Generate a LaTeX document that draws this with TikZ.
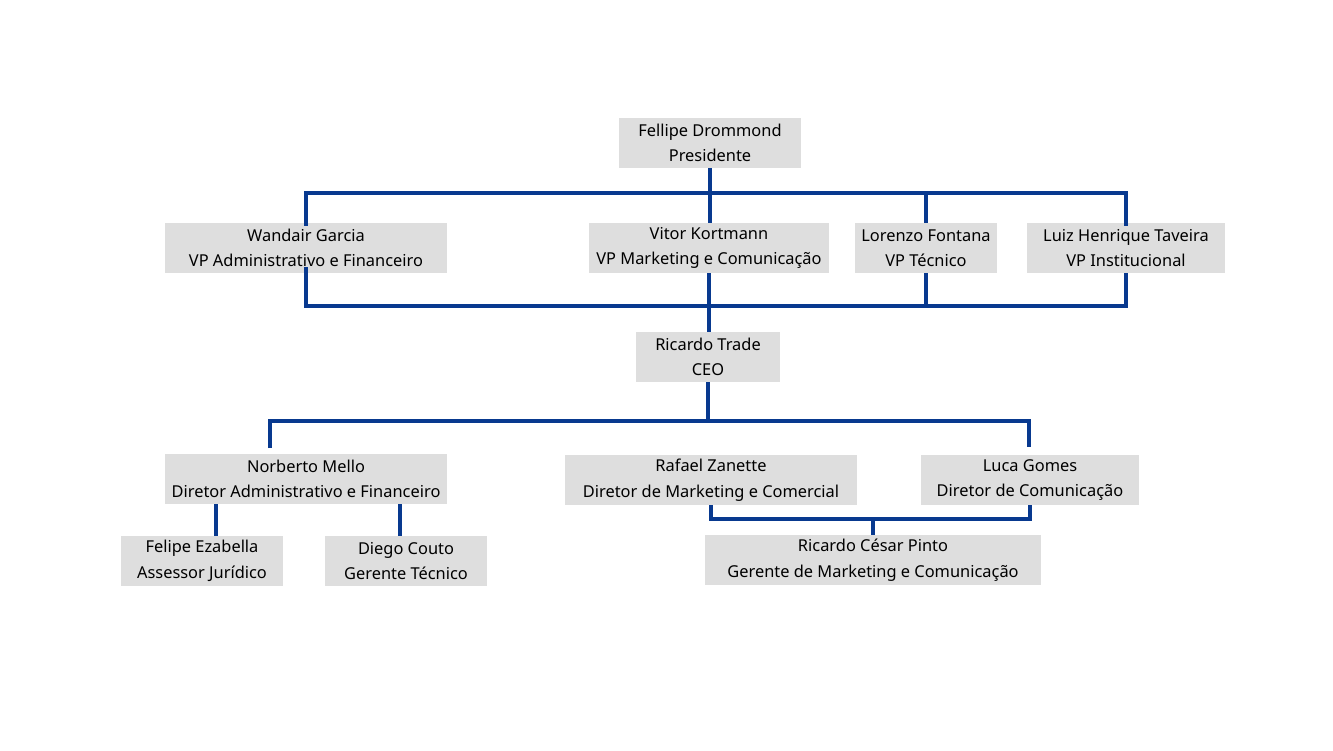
\documentclass[tikz,border=0pt]{standalone}
\usepackage{fontspec}
\setmainfont{Noto Sans}
\definecolor{lineblue}{RGB}{8,57,143}
\definecolor{boxgray}{RGB}{222,222,222}
\begin{document}
\begin{tikzpicture}[x=1pt,y=-1pt,
  box/.style={fill=boxgray, draw=none, inner sep=0pt, align=center,
    font=\fontsize{16.4}{25.5}\selectfont, minimum height=50},
  conn/.style={draw=lineblue, line width=3.1pt}]
\useasboundingbox (0,0) rectangle (1333,750);
% level 0
\node[box, minimum width=182] (pres) at (710,143) {Fellipe Drommond\\Presidente};
% level 1
\node[box, minimum width=282] (wand) at (306,248) {Wandair Garcia\\VP Administrativo e Financeiro};
\node[box, minimum width=240] (vitor) at (709,248) {Vitor Kortmann\\VP Marketing e Comunicação};
\node[box, minimum width=142] (lor) at (926,248) {Lorenzo Fontana\\VP Técnico};
\node[box, minimum width=198] (luiz) at (1126,248) {Luiz Henrique Taveira\\VP Institucional};
% CEO
\node[box, minimum width=144] (ceo) at (708,357) {Ricardo Trade\\CEO};
% directors
\node[box, minimum width=282] (norb) at (306,479) {Norberto Mello\\Diretor Administrativo e Financeiro};
\node[box, minimum width=292] (raf) at (711,480) {Rafael Zanette\\Diretor de Marketing e Comercial};
\node[box, minimum width=218] (luca) at (1030,480) {Luca Gomes\\Diretor de Comunicação};
% level 4
\node[box, minimum width=162] (fel) at (202,561) {Felipe Ezabella\\Assessor Jurídico};
\node[box, minimum width=162] (die) at (406,561) {Diego Couto\\Gerente Técnico};
\node[box, minimum width=336] (rcp) at (873,560) {Ricardo César Pinto\\Gerente de Marketing e Comunicação};
% bus levels
\coordinate (b1) at (0,193);
\coordinate (b2) at (0,306);
\coordinate (b3) at (0,421);
\coordinate (b4) at (0,519);
% top bus
\draw[conn] (pres.south) -- (pres.south |- vitor.north);
\draw[conn] ([yshift=-3]wand.north) -- (wand.north |- b1) -| ([yshift=-3]luiz.north);
\draw[conn] (lor.north) -- (lor.north |- b1);
% lower bus
\draw[conn] ([yshift=6]wand.south) -- (wand.south |- b2) -| (luiz.south);
\draw[conn] (lor.south) -- (lor.south |- b2);
\draw[conn] (vitor.south) -- (vitor.south |- ceo.north);
% CEO bus
\coordinate (nd) at (270,448);
\coordinate (ld) at (1029,447);
\draw[conn] (ceo.south) -- (ceo.south |- b3);
\draw[conn] (nd) -- (nd |- b3) -| (ld);
% Norberto subordinates
\draw[conn] ([xshift=14]fel.north) -- ([xshift=14]fel.north |- norb.south);
\draw[conn] ([xshift=-6]die.north) -- ([xshift=-6]die.north |- norb.south);
% manager
\draw[conn] (raf.south) -- (raf.south |- b4) -| (luca.south);
\draw[conn] (rcp.north) -- (rcp.north |- b4);
\end{tikzpicture}
\end{document}
